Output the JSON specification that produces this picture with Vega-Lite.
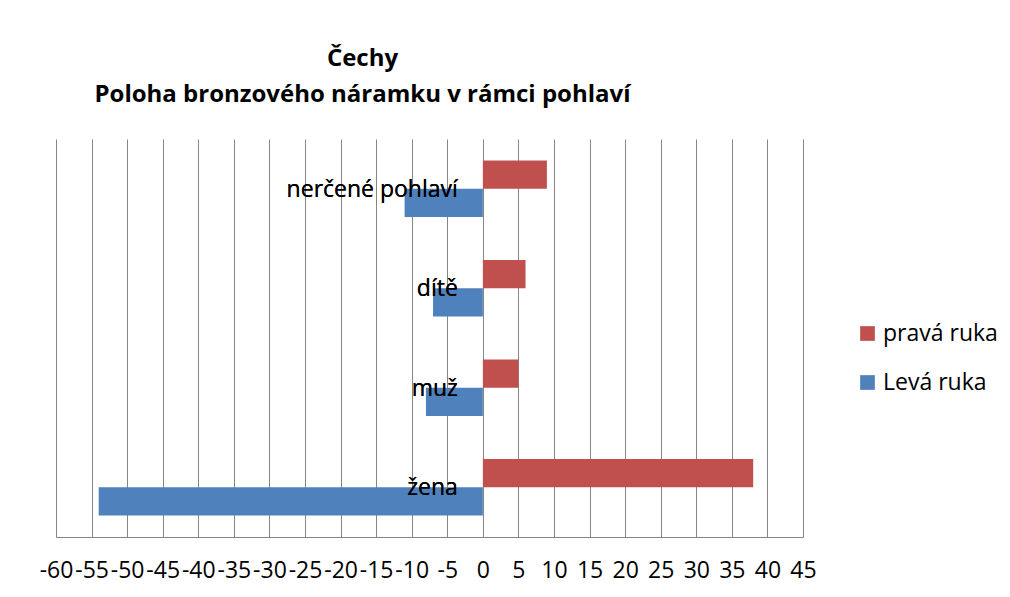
{
  "$schema": "https://vega.github.io/schema/vega-lite/v6.json",
  "autosize": {"type": "none"},
  "padding": {"left": 56, "top": 139, "right": 207, "bottom": 60},
  "width": 747,
  "height": 398,
  "background": "white",
  "title": {
    "text": ["Čechy", "Poloha bronzového náramku v rámci pohlaví"],
    "font": "Open Sans",
    "fontSize": 24,
    "fontWeight": "bold",
    "color": "black",
    "anchor": "middle",
    "dx": -67,
    "lineHeight": 36,
    "offset": 32
  },
  "data": {
    "values": [
      {"cat": "nerčené pohlaví", "side": "pravá ruka", "value": 9},
      {"cat": "nerčené pohlaví", "side": "Levá ruka", "value": -11},
      {"cat": "dítě", "side": "pravá ruka", "value": 6},
      {"cat": "dítě", "side": "Levá ruka", "value": -7},
      {"cat": "muž", "side": "pravá ruka", "value": 5},
      {"cat": "muž", "side": "Levá ruka", "value": -8},
      {"cat": "žena", "side": "pravá ruka", "value": 38},
      {"cat": "žena", "side": "Levá ruka", "value": -54}
    ]
  },
  "config": {
    "view": {"stroke": null},
    "font": "Open Sans"
  },
  "layer": [
    {
      "mark": {"type": "bar"},
      "encoding": {
        "y": {
          "field": "cat",
          "type": "nominal",
          "sort": ["nerčené pohlaví", "dítě", "muž", "žena"],
          "scale": {"paddingInner": 0.43, "paddingOuter": 0.215},
          "axis": null
        },
        "yOffset": {
          "field": "side",
          "type": "nominal",
          "sort": ["pravá ruka", "Levá ruka"],
          "scale": {"paddingInner": 0, "paddingOuter": 0}
        },
        "x": {
          "field": "value",
          "type": "quantitative",
          "scale": {"domain": [-60, 45], "nice": false, "zero": false},
          "axis": {
            "title": null,
            "values": [-60, -55, -50, -45, -40, -35, -30, -25, -20, -15, -10, -5, 0, 5, 10, 15, 20, 25, 30, 35, 40, 45],
            "labelExpr": "datum.value + ''",
            "grid": true,
            "gridColor": "#868686",
            "gridWidth": 1,
            "gridOpacity": 1,
            "domainColor": "#868686",
            "domainWidth": 1,
            "ticks": false,
            "labelFont": "Open Sans",
            "labelFontSize": 23,
            "labelColor": "black",
            "labelPadding": 22,
            "labelOverlap": false,
            "labelBound": false,
            "labelFlush": false
          }
        },
        "color": {
          "field": "side",
          "type": "nominal",
          "scale": {"domain": ["pravá ruka", "Levá ruka"], "range": ["#C0504D", "#4F81BD"]},
          "legend": {
            "title": null,
            "orient": "none",
            "legendX": 800,
            "legendY": 183,
            "padding": 0,
            "symbolType": "square",
            "symbolSize": 216,
            "symbolStrokeWidth": 0,
            "labelFont": "Open Sans",
            "labelFontSize": 23,
            "labelColor": "black",
            "labelOffset": 4,
            "rowPadding": 25
          }
        }
      }
    },
    {
      "mark": {"type": "text", "align": "right", "baseline": "alphabetic", "dx": -25, "dy": 8, "font": "Open Sans", "fontSize": 23, "color": "black"},
      "encoding": {
        "y": {
          "field": "cat",
          "type": "nominal",
          "sort": ["nerčené pohlaví", "dítě", "muž", "žena"],
          "axis": null
        },
        "x": {
          "datum": 0,
          "type": "quantitative",
          "axis": {
            "title": null,
            "values": [-60, -55, -50, -45, -40, -35, -30, -25, -20, -15, -10, -5, 0, 5, 10, 15, 20, 25, 30, 35, 40, 45],
            "labelExpr": "datum.value + ''",
            "grid": true,
            "gridColor": "#868686",
            "gridWidth": 1,
            "gridOpacity": 1,
            "domainColor": "#868686",
            "domainWidth": 1,
            "ticks": false,
            "labelFont": "Open Sans",
            "labelFontSize": 23,
            "labelColor": "black",
            "labelPadding": 22,
            "labelOverlap": false,
            "labelBound": false,
            "labelFlush": false
          }
        },
        "text": {"field": "cat"}
      }
    }
  ]
}
